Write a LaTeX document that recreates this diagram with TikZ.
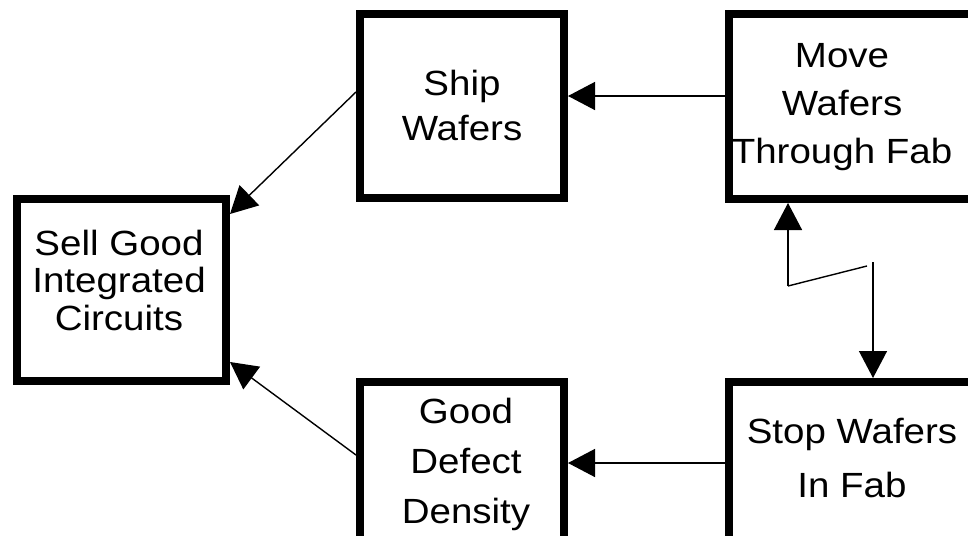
\documentclass[tikz,border=0pt]{standalone}
\usepackage{fontspec}
\setmainfont{Liberation Sans}[FakeStretch=1.1]
\usetikzlibrary{arrows.meta}

\begin{document}
\begin{tikzpicture}[x=1pt,y=-1pt,
  box/.style={draw,line width=8pt,inner sep=0pt,rectangle},
  lbl/.style={align=center,anchor=base,inner sep=0pt,font=\fontsize{35}{#1}\selectfont},
  arr/.style={line width=1.4pt,-{Triangle[length=27pt,width=28pt]}},
  conn/.style={line width=1.4pt}]
  \useasboundingbox (0,0) rectangle (968,535);
  \clip (0,0) rectangle (968,535);
  \fill[white] (0,0) rectangle (968,535);

  % boxes (centre line of the heavy frame)
  \node[box,minimum width=209pt,minimum height=182pt] (sell) at (121.5,290) {};
  \node[box,minimum width=204pt,minimum height=184pt] (ship) at (462,106) {};
  \node[box,minimum width=204pt,minimum height=184pt] (good) at (462,474) {};
  \node[box,minimum width=271pt,minimum height=185pt] (move) at (864.5,106.5) {};
  \node[box,minimum width=271pt,minimum height=184pt] (stop) at (864.5,474) {};

  % labels, placed by the baseline of their last line
  \node[lbl=37.5] (sellt) at (119,330) {Sell Good\\Integrated\\Circuits};
  \node[lbl=45.5] (shipt) at (462,140.5) {Ship\\Wafers};
  \node[lbl=48] (movet) at (842,163) {Move\\Wafers\\Through Fab};
  \node[lbl=50] (goodt) at (466,523) {Good\\Defect\\Density};
  \node[lbl=54] (stopt) at (852,497) {Stop Wafers\\In Fab};

  % cause and effect connectors
  \draw[arr] (move.west |- 0,96) -- (ship.east |- 0,96);
  \draw[arr] (stop.west |- 0,463) -- (good.east |- 0,463);
  \draw[arr] (ship.west |- 0,92) -- (sell.east |- 0,214);
  \draw[arr] (good.west |- 0,455) -- (sell.east |- 0,362);

  % conflict between moving and stopping wafers
  \coordinate (zigA) at (867,266);
  \coordinate (zigB) at (788,286);
  \coordinate (zigC) at (873,262);
  \draw[conn] (zigA) -- (zigB);
  \draw[arr] (zigB) -- (zigB |- move.south);
  \draw[arr] (zigC) -- (zigC |- stop.north);
\end{tikzpicture}
\end{document}
